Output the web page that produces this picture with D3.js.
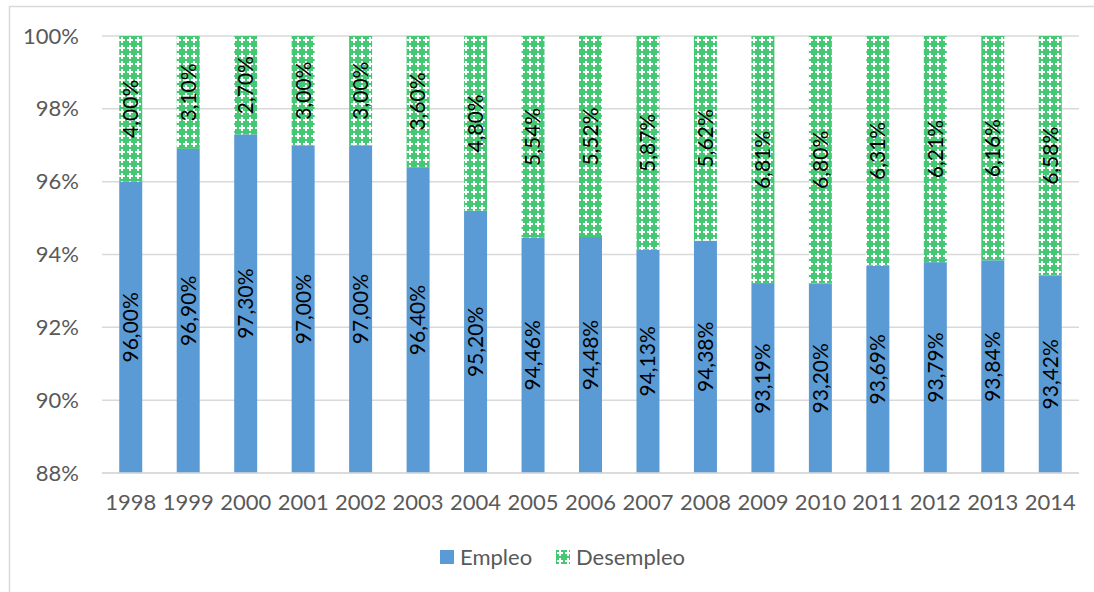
<!DOCTYPE html>
<html>
<head>
<meta charset="utf-8">
<script src="https://cdn.jsdelivr.net/npm/d3@7"></script>
<style>
  body { margin: 0; background: #fff; }
  text { font-family: Lato, "Open Sans", sans-serif; }
</style>
</head>
<body>
<div id="chart"></div>
<script>
// Chart data
const years = ["1998", "1999", "2000", "2001", "2002", "2003", "2004", "2005", "2006",
    "2007", "2008", "2009", "2010", "2011", "2012", "2013", "2014"];
const empleo = [96.00, 96.90, 97.30, 97.00, 97.00, 96.40, 95.20, 94.46, 94.48,
    94.13, 94.38, 93.19, 93.20, 93.69, 93.79, 93.84, 93.42];
const desempleo = [4.00, 3.10, 2.70, 3.00, 3.00, 3.60, 4.80, 5.54, 5.52,
    5.87, 5.62, 6.81, 6.80, 6.31, 6.21, 6.16, 6.58];
const yTicks = [88, 90, 92, 94, 96, 98, 100];
const seriesNames = ["Empleo", "Desempleo"];

const W = 1094, H = 592;
const margin = { top: 36, right: 15, bottom: 119, left: 102 };
const width = W - margin.left - margin.right;
const height = H - margin.top - margin.bottom;

const es = d3.formatLocale({ decimal: ",", thousands: ".", grouping: [3], currency: ["", "€"] });
const fmtLabel = v => es.format(".2f")(v) + "%";

const svg = d3.select("#chart")
    .append("svg")
    .attr("width", W)
    .attr("height", H);

// Pattern for desempleo
const defs = svg.append("defs");
const pat = defs.append("pattern")
    .attr("id", "crossPat")
    .attr("patternUnits", "userSpaceOnUse")
    .attr("width", 8)
    .attr("height", 8);
pat.append("rect").attr("width", 8).attr("height", 8).attr("fill", "#45c874");
pat.append("rect").attr("x", 3).attr("y", 1).attr("width", 2).attr("height", 6).attr("fill", "#ffffff");
pat.append("rect").attr("x", 1).attr("y", 3).attr("width", 6).attr("height", 2).attr("fill", "#ffffff");

// Outer frame
svg.append("rect")
    .attr("x", 9.5).attr("y", 6.5)
    .attr("width", W + 20).attr("height", H + 20)
    .attr("fill", "none")
    .attr("stroke", "#d9d9d9")
    .attr("stroke-width", 1.5);

const g = svg.append("g")
    .attr("transform", `translate(${margin.left},${margin.top})`);

const x = d3.scaleBand()
    .domain(years)
    .range([0, width])
    .paddingInner(0.6)
    .paddingOuter(0.3);

const y = d3.scaleLinear()
    .domain([88, 100])
    .range([height, 0]);

// Gridlines
g.append("g")
    .selectAll("line")
    .data(yTicks)
    .enter()
    .append("line")
    .attr("x1", 0)
    .attr("x2", width)
    .attr("y1", d => y(d))
    .attr("y2", d => y(d))
    .attr("stroke", "#d9d9d9")
    .attr("stroke-width", 1.5);

// Y axis labels
const yAxis = g.append("g")
    .call(d3.axisLeft(y).tickValues(yTicks).tickSize(0).tickPadding(23).tickFormat(d => d + "%"));
yAxis.select(".domain").remove();
yAxis.selectAll("text")
    .style("font-size", "22px")
    .style("font-family", "Lato, sans-serif")
    .attr("fill", "#595959");

// X axis labels
const xAxis = g.append("g")
    .attr("transform", `translate(0,${height})`)
    .call(d3.axisBottom(x).tickSize(0).tickPadding(21));
xAxis.select(".domain").remove();
xAxis.selectAll("text")
    .style("font-size", "22px")
    .style("font-family", "Lato, sans-serif")
    .attr("fill", "#595959");

// Stacked data
const rows = years.map((yr, i) => ({ year: yr, Empleo: empleo[i] - 88, Desempleo: desempleo[i] }));
const stack = d3.stack().keys(seriesNames)(rows);
const fills = { Empleo: "#5b9bd5", Desempleo: "url(#crossPat)" };

const layers = g.selectAll(".layer")
    .data(stack)
    .enter()
    .append("g")
    .attr("class", "layer");

layers.selectAll("rect")
    .data(d => d.map(p => ({ key: d.key, p })))
    .enter()
    .append("rect")
    .attr("x", d => x(d.p.data.year))
    .attr("width", x.bandwidth())
    .attr("y", d => y(88 + d.p[1]))
    .attr("height", d => y(88 + d.p[0]) - y(88 + d.p[1]))
    .attr("fill", d => fills[d.key]);

// Data labels (rotated)
const labelData = [];
years.forEach((yr, i) => {
    labelData.push({ year: yr, v: empleo[i], mid: (88 + empleo[i]) / 2 });
    labelData.push({ year: yr, v: desempleo[i], mid: (empleo[i] + 100) / 2 });
});
g.selectAll(".dlabel")
    .data(labelData)
    .enter()
    .append("text")
    .attr("class", "dlabel")
    .attr("transform", d => `translate(${x(d.year) + x.bandwidth() / 2},${y(d.mid)}) rotate(-90)`)
    .attr("text-anchor", "middle")
    .attr("dy", "0.35em")
    .style("font-size", "21px")
    .attr("fill", "#000")
    .text(d => fmtLabel(d.v));

// Bottom axis line
g.append("line")
    .attr("x1", 0).attr("x2", width)
    .attr("y1", height).attr("y2", height)
    .attr("stroke", "#d9d9d9")
    .attr("stroke-width", 1.5);

// Legend
const legend = svg.append("g").attr("transform", "translate(440,557)");
const items = [
    { name: "Empleo", fill: fills.Empleo, x: 0 },
    { name: "Desempleo", fill: fills.Desempleo, x: 116 }
];
const li = legend.selectAll("g")
    .data(items)
    .enter()
    .append("g")
    .attr("transform", d => `translate(${d.x},0)`);
li.append("rect")
    .attr("x", 0).attr("y", -7)
    .attr("width", 14).attr("height", 14)
    .attr("fill", d => d.fill);
li.append("text")
    .attr("x", 20)
    .attr("dy", "0.35em")
    .style("font-size", "22px")
    .attr("fill", "#595959")
    .text(d => d.name);
</script>
</body>
</html>
